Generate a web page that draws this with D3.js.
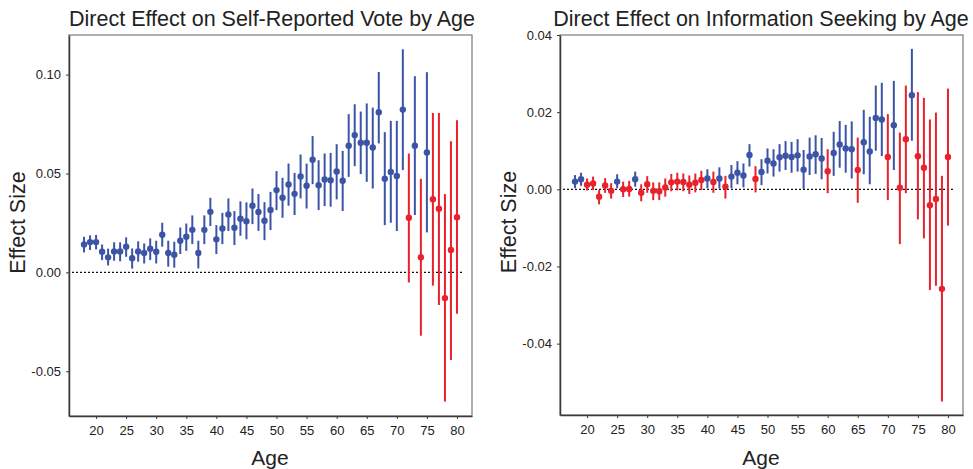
<!DOCTYPE html>
<html>
<head>
<meta charset="utf-8">
<script src="https://cdnjs.cloudflare.com/ajax/libs/d3/7.8.5/d3.min.js"></script>
<style>
  body { margin: 0; background: #fff; }
  svg text { font-family: "Liberation Sans", Arial, sans-serif; fill: #222; }
</style>
</head>
<body>
<svg id="chart"></svg>
<script>
// Ages on the x axis
const ages = d3.range(18, 81);

// Panel 1: self-reported vote (estimate, lower, upper, significant flag)
const voteEst = [0.0141, 0.0153, 0.0153, 0.0104, 0.0076, 0.0106, 0.0106, 0.0130, 0.0072, 0.0106,
  0.0098, 0.0120, 0.0104, 0.0190, 0.0098, 0.0089, 0.0160, 0.0180, 0.0215, 0.0098,
  0.0215, 0.0306, 0.0167, 0.0222, 0.0293, 0.0226, 0.0271, 0.0259, 0.0337, 0.0305,
  0.0261, 0.0315, 0.0416, 0.0377, 0.0444, 0.0397, 0.0485, 0.0438, 0.0569, 0.0441,
  0.0470, 0.0466, 0.0510, 0.0463, 0.0640, 0.0694, 0.0655, 0.0655, 0.0631, 0.0810,
  0.0473, 0.0508, 0.0487, 0.0823, 0.0276, 0.0640, 0.0077, 0.0606, 0.0370, 0.0322,
  -0.0130, 0.0113, 0.0279];
const voteLo = [0.0101, 0.0113, 0.0116, 0.0062, 0.0035, 0.0059, 0.0056, 0.0079, 0.0019, 0.0054,
  0.0045, 0.0062, 0.0045, 0.0130, 0.0029, 0.0024, 0.0093, 0.0109, 0.0143, 0.0020,
  0.0143, 0.0234, 0.0093, 0.0143, 0.0209, 0.0138, 0.0185, 0.0167, 0.0244, 0.0210,
  0.0163, 0.0214, 0.0315, 0.0276, 0.0337, 0.0290, 0.0374, 0.0323, 0.0446, 0.0315,
  0.0335, 0.0332, 0.0369, 0.0310, 0.0483, 0.0537, 0.0497, 0.0458, 0.0424, 0.0652,
  0.0239, 0.0251, 0.0209, 0.0517, -0.0051, 0.0290, -0.0320, 0.0202, -0.0067, -0.0165,
  -0.0653, -0.0443, -0.0209];
const voteHi = [0.0180, 0.0187, 0.0189, 0.0141, 0.0120, 0.0152, 0.0152, 0.0177, 0.0121, 0.0157,
  0.0146, 0.0172, 0.0160, 0.0251, 0.0160, 0.0155, 0.0227, 0.0247, 0.0288, 0.0160,
  0.0288, 0.0377, 0.0239, 0.0301, 0.0374, 0.0310, 0.0359, 0.0354, 0.0424, 0.0396,
  0.0355, 0.0407, 0.0512, 0.0478, 0.0550, 0.0503, 0.0596, 0.0550, 0.0689, 0.0567,
  0.0601, 0.0604, 0.0648, 0.0614, 0.0800, 0.0850, 0.0813, 0.0854, 0.0833, 0.1013,
  0.0709, 0.0766, 0.0766, 0.1128, 0.0601, 0.0992, 0.0473, 0.1012, 0.0806, 0.0806,
  0.0396, 0.0663, 0.0769];
const voteSig = [1, 1, 1, 1, 1, 1, 1, 1, 1, 1, 1, 1, 1, 1, 1, 1, 1, 1, 1, 1,
  1, 1, 1, 1, 1, 1, 1, 1, 1, 1, 1, 1, 1, 1, 1, 1, 1, 1, 1, 1,
  1, 1, 1, 1, 1, 1, 1, 1, 1, 1, 1, 1, 1, 1, 0, 1, 0, 1, 0, 0,
  0, 0, 0];

// Panel 2: information seeking
const infoEst = [0.0020, 0.0026, 0.0012, 0.0015, -0.0019, 0.0010, -0.0004, 0.0020, 0.0000, 0.0001,
  0.0026, -0.0009, 0.0013, -0.0004, -0.0005, 0.0005, 0.0018, 0.0020, 0.0019, 0.0012,
  0.0017, 0.0024, 0.0028, 0.0019, 0.0028, 0.0007, 0.0033, 0.0043, 0.0036, 0.0089,
  0.0027, 0.0045, 0.0074, 0.0067, 0.0083, 0.0087, 0.0084, 0.0088, 0.0051, 0.0085,
  0.0091, 0.0080, 0.0047, 0.0094, 0.0116, 0.0106, 0.0104, 0.0050, 0.0122, 0.0098,
  0.0185, 0.0181, 0.0084, 0.0166, 0.0004, 0.0130, 0.0244, 0.0086, 0.0056, -0.0041,
  -0.0025, -0.0258, 0.0084];
const infoLo = [0.0003, 0.0009, -0.0003, -0.0002, -0.0039, -0.0009, -0.0024, 0.0003, -0.0020, -0.0019,
  0.0007, -0.0031, -0.0009, -0.0028, -0.0028, -0.0019, -0.0005, -0.0003, -0.0005, -0.0012,
  -0.0008, -0.0002, 0.0003, -0.0009, 0.0002, -0.0024, 0.0003, 0.0013, 0.0005, 0.0059,
  -0.0008, 0.0011, 0.0041, 0.0033, 0.0046, 0.0050, 0.0043, 0.0046, 0.0001, 0.0037,
  0.0040, 0.0026, -0.0010, 0.0035, 0.0056, 0.0043, 0.0028, -0.0035, 0.0039, 0.0013,
  0.0100, 0.0086, -0.0028, 0.0050, -0.0142, -0.0010, 0.0126, -0.0078, -0.0127, -0.0261,
  -0.0250, -0.0550, -0.0094];
const infoHi = [0.0037, 0.0043, 0.0028, 0.0033, -0.0002, 0.0029, 0.0016, 0.0039, 0.0020, 0.0022,
  0.0046, 0.0013, 0.0034, 0.0018, 0.0018, 0.0028, 0.0040, 0.0043, 0.0041, 0.0036,
  0.0041, 0.0048, 0.0052, 0.0046, 0.0057, 0.0035, 0.0063, 0.0073, 0.0067, 0.0117,
  0.0060, 0.0078, 0.0106, 0.0104, 0.0117, 0.0125, 0.0123, 0.0130, 0.0102, 0.0134,
  0.0140, 0.0133, 0.0104, 0.0149, 0.0177, 0.0167, 0.0176, 0.0134, 0.0206, 0.0188,
  0.0269, 0.0276, 0.0195, 0.0281, 0.0147, 0.0269, 0.0364, 0.0252, 0.0237, 0.0181,
  0.0199, 0.0035, 0.0261];
const infoSig = [1, 1, 0, 0, 0, 0, 0, 1, 0, 0, 1, 0, 0, 0, 0, 0, 0, 0, 0, 0,
  0, 0, 1, 0, 1, 0, 1, 1, 1, 1, 0, 1, 1, 1, 1, 1, 1, 1, 1, 1,
  1, 1, 0, 1, 1, 1, 1, 0, 1, 1, 1, 1, 0, 1, 0, 0, 1, 0, 0, 0,
  0, 0, 0];

const xTicks = [20, 25, 30, 35, 40, 45, 50, 55, 60, 65, 70, 75, 80];
const voteTicks = [-0.05, 0.00, 0.05, 0.10];
const infoTicks = [-0.04, -0.02, 0.00, 0.02, 0.04];

const blue = "#3b54a5";
const red = "#e8212b";

const svg = d3.select("#chart")
  .attr("width", 973)
  .attr("height", 469);

function drawPanel(opts) {
  const x = d3.scaleLinear().domain([15.5, 82.5]).range([opts.left, opts.left + 403]);
  const y = d3.scaleLinear().domain(opts.yDomain).range([opts.bottom, 35]);

  const g = svg.append("g");

  // frame (top/right lighter)
  g.append("rect")
    .attr("x", opts.left).attr("y", 35)
    .attr("width", 403).attr("height", opts.bottom - 35)
    .attr("fill", "none").attr("stroke", "#858585").attr("stroke-width", 1.3);

  // axes
  const xAxis = g.append("g")
    .attr("transform", `translate(0,${opts.bottom})`)
    .call(d3.axisBottom(x).tickValues(xTicks).tickSize(3).tickSizeOuter(0).tickPadding(7));
  const yAxis = g.append("g")
    .attr("transform", `translate(${opts.left},0)`)
    .call(d3.axisLeft(y).tickValues(opts.ticks).tickSize(3).tickSizeOuter(0).tickPadding(5)
      .tickFormat(d => d.toFixed(2)));
  [xAxis, yAxis].forEach(a => {
    a.select(".domain").attr("stroke", "#3a3a3a").attr("stroke-width", 1.5);
    a.selectAll(".tick line").attr("stroke", "#3a3a3a");
    a.selectAll(".tick text").attr("font-size", 13).attr("fill", "#333")
      .style("font-family", "'Liberation Sans', Arial, sans-serif");
  });

  // zero reference line
  g.append("line")
    .attr("x1", x(16)).attr("x2", x(81))
    .attr("y1", y(0)).attr("y2", y(0))
    .attr("stroke", "#111").attr("stroke-width", 1.2)
    .attr("stroke-dasharray", "2,2");

  const rows = ages.map((a, i) => ({
    age: a, est: opts.est[i], lo: opts.lo[i], hi: opts.hi[i], sig: opts.sig[i]
  }));

  g.selectAll(".bar").data(rows).enter().append("line")
    .attr("class", "bar")
    .attr("x1", d => x(d.age)).attr("x2", d => x(d.age))
    .attr("y1", d => y(d.lo)).attr("y2", d => y(d.hi))
    .attr("stroke", d => d.sig ? blue : red)
    .attr("stroke-width", 2);

  g.selectAll(".dot").data(rows).enter().append("circle")
    .attr("class", "dot")
    .attr("cx", d => x(d.age)).attr("cy", d => y(d.est))
    .attr("r", 3.2)
    .attr("fill", d => d.sig ? blue : red);

  // titles and axis labels
  g.append("text")
    .attr("x", opts.left + 201 + opts.titleDx).attr("y", 26)
    .attr("text-anchor", "middle").attr("font-size", 21.5)
    .text(opts.title);
  g.append("text")
    .attr("x", opts.left + 201).attr("y", 465)
    .attr("text-anchor", "middle").attr("font-size", 21)
    .text("Age");
  g.append("text")
    .attr("transform", `translate(${opts.left - 44},${(35 + opts.bottom) / 2 - 3}) rotate(-90)`)
    .attr("text-anchor", "middle").attr("font-size", 21.5)
    .text("Effect Size");
}

drawPanel({
  left: 69, bottom: 416, yDomain: [-0.0726, 0.12], ticks: voteTicks,
  est: voteEst, lo: voteLo, hi: voteHi, sig: voteSig, titleDx: 2,
  title: "Direct Effect on Self-Reported Vote by Age"
});

drawPanel({
  left: 560, bottom: 415, yDomain: [-0.0585, 0.04], ticks: infoTicks,
  est: infoEst, lo: infoLo, hi: infoHi, sig: infoSig, titleDx: 0,
  title: "Direct Effect on Information Seeking by Age"
});
</script>
</body>
</html>
